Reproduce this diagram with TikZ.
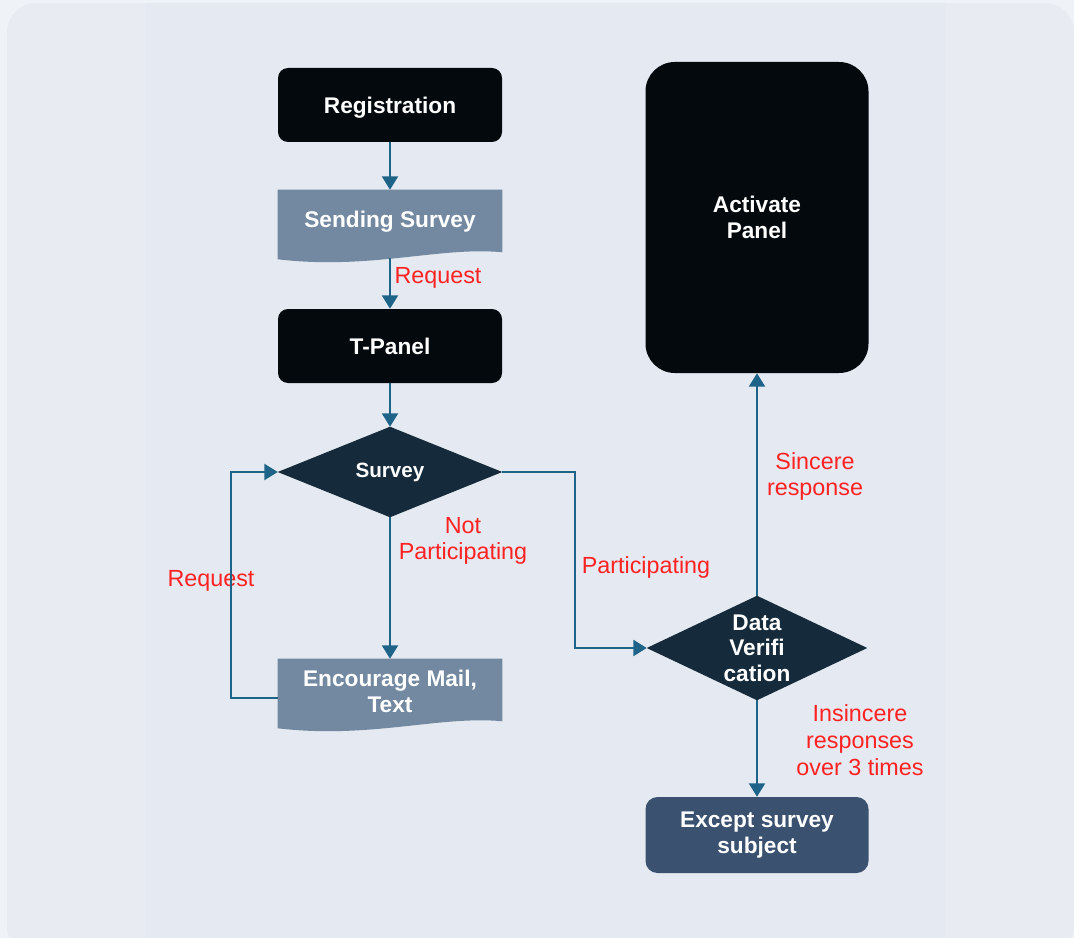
\documentclass[tikz,border=0pt]{standalone}
\usepackage{fontspec}
\setmainfont{Liberation Sans}
\usetikzlibrary{arrows.meta,calc,backgrounds}
\definecolor{bgout}{HTML}{EFF2F7}
\definecolor{bgcard}{HTML}{E8ECF2}
\definecolor{bgpanel}{HTML}{E5E9F1}
\definecolor{nodeblack}{HTML}{04090D}
\definecolor{docfill}{HTML}{7389A1}
\definecolor{diafill}{HTML}{152B3B}
\definecolor{excfill}{HTML}{3A5270}
\definecolor{arrcol}{HTML}{1E6488}
\definecolor{lblred}{HTML}{FF2222}
\begin{document}
\begin{tikzpicture}[x=0.75pt,y=-0.75pt,
  nodetext/.style={text=white, font=\bfseries\fontsize{17}{19.5}\selectfont, align=center, inner sep=0pt},
  box/.style={nodetext, rectangle, rounded corners=7.5pt, fill=nodeblack, minimum width=168pt, minimum height=55.5pt},
  doc/.style={nodetext, rectangle, minimum width=168pt, minimum height=48pt},
  dia/.style={nodetext, rectangle, minimum width=168pt, minimum height=67.5pt},
  lbl/.style={text=lblred, font=\fontsize{17.5}{20}\selectfont, align=center, inner sep=0pt},
  arr/.style={draw=arrcol, line width=1.5pt, -{Triangle[length=10pt,width=12pt]}}
]
\useasboundingbox (0,0) rectangle (1074,938);
\begin{scope}[on background layer]
  \fill[bgout] (0,0) rectangle (1074,938);
  \fill[bgcard, rounded corners=22pt] (7,3) rectangle (1074,955);
  \fill[bgpanel] (145,3) rectangle (945,938);
\end{scope}

% nodes
\node[box, text depth=0pt] (reg) at (390,105) {Registration};
\node[doc] (ss) at (390,222) {Sending Survey};
\node[box] (tp) at (390,346) {T-Panel};
\node[dia, font=\bfseries\fontsize{15.5}{18}\selectfont] (sv) at (390,472) {Survey};
\node[doc] (enc) at (390,691) {Encourage Mail,\\Text};
\node[box, minimum width=167.25pt, minimum height=233.25pt, rounded corners=22pt] (act) at (757,217.5) {Activate\\Panel};
\node[dia, minimum width=165pt, minimum height=78pt, font=\bfseries\fontsize{17}{19}\selectfont] (dv) at (757,648) {Data\\Verifi\\cation};
\node[box, fill=excfill, minimum width=167.25pt, minimum height=57pt, rounded corners=9pt] (exc) at (757,835) {Except survey\\subject};

% shape fills
\begin{scope}[on background layer]
  \fill[diafill] (sv.west) -- (sv.north) -- (sv.east) -- (sv.south) -- cycle;
  \fill[diafill] (dv.west) -- (dv.north) -- (dv.east) -- (dv.south) -- cycle;
  \foreach \d in {ss,enc}{
    \fill[docfill] (\d.north west) -- (\d.north east) -- ($(\d.south east)+(0,-2)$)
      .. controls ($(\d.south east)+(-62,-8)$) and ($(\d.south west)+(92,16)$) .. ($(\d.south west)+(0,5)$) -- cycle;
  }
\end{scope}

% labels
\node[lbl] (l1) at (438,278) {Request};
\node[lbl] (l2) at (211,581) {Request};
\node[lbl] (l3) at (463,541) {Not\\Participating};
\node[lbl] (l4) at (646,567) {Participating};
\node[lbl] (l5) at (815,476.5) {Sincere\\response};
\node[lbl] (l6) at (860,740) {Insincere\\responses\\over 3 times};

% connectors
\draw[arr] (reg.south) -- (ss.north);
\draw[arr] ($(ss.south)+(0,4)$) -- (tp.north);
\draw[arr] (tp.south) -- (sv.north);
\draw[arr] (sv.south) -- (enc.north);
\draw[arr] ($(enc.west)+(0,7)$) -- ++(-47,0) |- (sv.west);
\draw[arr] (sv.east) -- ++(73,0) |- (dv.west);
\draw[arr] (dv.north) -- (act.south);
\draw[arr] (dv.south) -- (exc.north);
\end{tikzpicture}
\end{document}
